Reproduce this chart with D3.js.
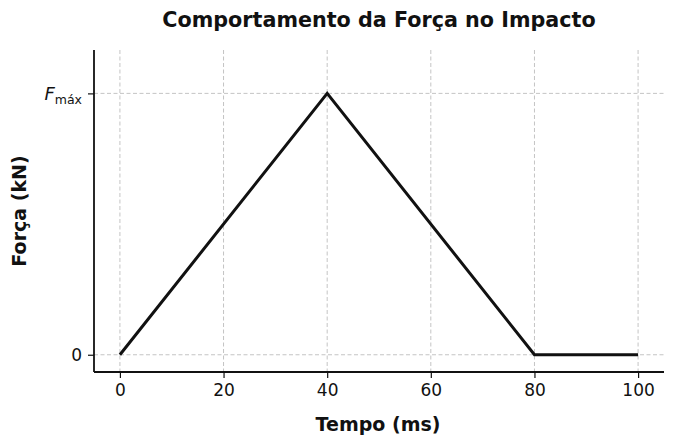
<!DOCTYPE html>
<html>
<head>
<meta charset="utf-8">
<script src="https://cdn.jsdelivr.net/npm/d3@7"></script>
<style>
  body { margin: 0; background: #fff; }
  text { font-family: "DejaVu Sans", sans-serif; fill: #111; }
</style>
</head>
<body>
<div id="chart"></div>
<script>
// force profile (Fmax normalised to 1)
const tempo = [0, 40, 80, 100];
const forca = [0, 1, 0, 0];
const xTicks = [0, 20, 40, 60, 80, 100];
const yTicks = [0, 1];

const width = 675, height = 446;
const margin = {top: 50, right: 11, bottom: 74, left: 94};
const innerW = width - margin.left - margin.right;
const innerH = height - margin.top - margin.bottom;

const x = d3.scaleLinear().domain([-5, 105]).range([0, innerW]);
const y = d3.scaleLinear().domain([-0.066, 1.166]).range([innerH, 0]);

const svg = d3.select("#chart").append("svg")
    .attr("width", width)
    .attr("height", height);

const g = svg.append("g")
    .attr("transform", "translate(" + margin.left + "," + margin.top + ")");

// grid
g.append("g").selectAll("line")
    .data(xTicks)
    .enter().append("line")
    .attr("x1", d => x(d)).attr("x2", d => x(d))
    .attr("y1", 0).attr("y2", innerH)
    .attr("stroke", "#c4c4c4")
    .attr("stroke-width", 1)
    .attr("stroke-dasharray", "4,2.5");
g.append("g").selectAll("line")
    .data(yTicks)
    .enter().append("line")
    .attr("y1", d => y(d)).attr("y2", d => y(d))
    .attr("x1", 0).attr("x2", innerW)
    .attr("stroke", "#c4c4c4")
    .attr("stroke-width", 1)
    .attr("stroke-dasharray", "4,2.5");

// force line
const line = d3.line()
    .x((d, i) => x(tempo[i]))
    .y(d => y(d));
g.append("path")
    .datum(forca)
    .attr("d", line)
    .attr("fill", "none")
    .attr("stroke", "#111")
    .attr("stroke-width", 3)
    .attr("stroke-linejoin", "miter");

// axes
const xAxis = g.append("g")
    .attr("transform", "translate(0," + innerH + ")")
    .call(d3.axisBottom(x).tickValues(xTicks).tickSize(6).tickPadding(6));
const yAxis = g.append("g")
    .call(d3.axisLeft(y).tickValues(yTicks).tickSize(6).tickPadding(5).tickFormat(() => ""));

[xAxis, yAxis].forEach(a => {
    a.select(".domain").attr("stroke", "#111").attr("stroke-width", 1.8);
    a.selectAll(".tick line").attr("stroke", "#111").attr("stroke-width", 1.2);
    a.selectAll("text").attr("font-size", 17).attr("font-family", "DejaVu Sans").attr("fill", "#111");
});
// square the spines (no outer tick ends)
xAxis.select(".domain").attr("d", "M0,0H" + innerW);
yAxis.select(".domain").attr("d", "M0,0V" + innerH);

// y tick labels: 0 and F_máx
yAxis.selectAll(".tick").each(function(d) {
    const t = d3.select(this).select("text");
    t.attr("x", -12).attr("dy", "0.35em");
    if (d === 0) {
        t.text("0");
    } else {
        t.text(null);
        t.append("tspan").attr("font-style", "italic").attr("font-size", 18).text("F");
        t.append("tspan").attr("font-size", 12.5).attr("dy", 4).text("máx");
    }
});

// title and labels
svg.append("text")
    .attr("x", margin.left + innerW / 2)
    .attr("y", 27)
    .attr("text-anchor", "middle")
    .attr("font-size", 20.7)
    .attr("font-weight", "bold")
    .text("Comportamento da Força no Impacto");

svg.append("text")
    .attr("x", margin.left + innerW / 2 - 1)
    .attr("y", 431)
    .attr("text-anchor", "middle")
    .attr("font-size", 19)
    .attr("font-weight", "bold")
    .text("Tempo (ms)");

svg.append("text")
    .attr("transform", "translate(26," + (margin.top + innerH / 2) + ") rotate(-90)")
    .attr("text-anchor", "middle")
    .attr("font-size", 19)
    .attr("font-weight", "bold")
    .text("Força (kN)");
</script>
</body>
</html>
